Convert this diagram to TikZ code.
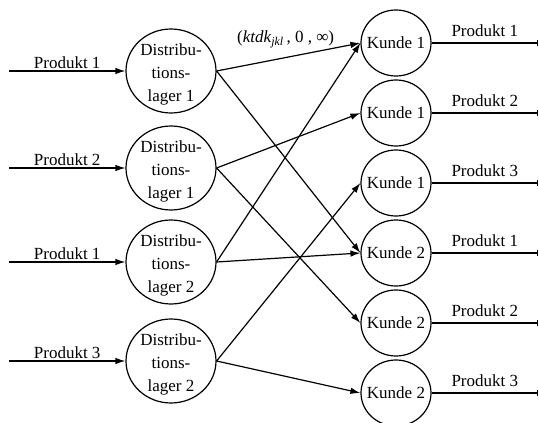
\documentclass[tikz,border=0pt]{standalone}
\usepackage{fontspec}
\setmainfont{Liberation Serif}
\usetikzlibrary{shapes.geometric,arrows.meta}
\begin{document}
\begin{tikzpicture}[x=1pt,y=-1pt,
  every node/.style={font=\fontsize{17}{23}\selectfont},
  lager/.style={ellipse,draw,line width=1.2pt,minimum width=90pt,minimum height=84pt,inner sep=0pt},
  kunde/.style={ellipse,draw,line width=1.2pt,minimum width=70pt,minimum height=66pt,inner sep=0pt},
  flow/.style={line width=1.2pt,-{Latex[length=10pt,width=6.5pt]}},
  supply/.style={line width=1.2pt,-{Latex[length=10pt,width=6.5pt]}},
  demand/.style={line width=1.2pt,-{Bar[width=6pt]}},
  inlabel/.style={midway,above,inner sep=1.5pt},
  outlabel/.style={midway,above,inner sep=0pt,yshift=6pt},
  lagertext/.style={align=center,yshift=-3pt}]
\useasboundingbox (0,0) rectangle (539,423);

% distribution warehouses
\node[lager,label={[lagertext]center:Distribu-\\tions-\\lager 1}] (d1) at (171,71) {};
\node[lager,label={[lagertext]center:Distribu-\\tions-\\lager 1}] (d2) at (171,168) {};
\node[lager,label={[lagertext]center:Distribu-\\tions-\\lager 2}] (d3) at (171,262) {};
\node[lager,label={[lagertext]center:Distribu-\\tions-\\lager 2}] (d4) at (171,361) {};

% customers
\node[kunde,label=center:Kunde 1] (k1) at (396,43) {};
\node[kunde,label=center:Kunde 1] (k2) at (396,113) {};
\node[kunde,label=center:Kunde 1] (k3) at (396,183) {};
\node[kunde,label=center:Kunde 2] (k4) at (396,253) {};
\node[kunde,label=center:Kunde 2] (k5) at (396,323) {};
\node[kunde,label=center:Kunde 2] (k6) at (396,393) {};

% sources and sinks
\coordinate (i1) at (9,71);
\coordinate (i2) at (9,168);
\coordinate (i3) at (9,262);
\coordinate (i4) at (9,361);
\coordinate (o1) at (538,43);
\coordinate (o2) at (538,113);
\coordinate (o3) at (538,183);
\coordinate (o4) at (538,253);
\coordinate (o5) at (538,323);
\coordinate (o6) at (538,393);

% incoming supply
\draw[supply] (i1) -- node[inlabel]{Produkt 1} (d1);
\draw[supply] (i2) -- node[inlabel]{Produkt 2} (d2);
\draw[supply] (i3) -- node[inlabel]{Produkt 1} (d3);
\draw[supply] (i4) -- node[inlabel]{Produkt 3} (d4);

% outgoing demand
\draw[demand] (k1) -- node[outlabel]{Produkt 1} (o1);
\draw[demand] (k2) -- node[outlabel]{Produkt 2} (o2);
\draw[demand] (k3) -- node[outlabel]{Produkt 3} (o3);
\draw[demand] (k4) -- node[outlabel]{Produkt 1} (o4);
\draw[demand] (k5) -- node[outlabel]{Produkt 2} (o5);
\draw[demand] (k6) -- node[outlabel]{Produkt 3} (o6);

% transport arcs
\draw[flow] (d1.east) -- node[pos=0.48,yshift=18pt]{(\textit{ktdk}\textsubscript{\textit{jkl}}\,, 0 , ∞)} (k1.west);
\draw[flow] (d1.east) -- (k4.west);
\draw[flow] (d2.east) -- (k2.west);
\draw[flow] (d2.east) -- (k5.west);
\draw[flow] (d3.east) -- (k1.west);
\draw[flow] (d3.east) -- (k4.west);
\draw[flow] (d4.east) -- (k3.west);
\draw[flow] (d4.east) -- (k6.west);
\end{tikzpicture}
\end{document}
